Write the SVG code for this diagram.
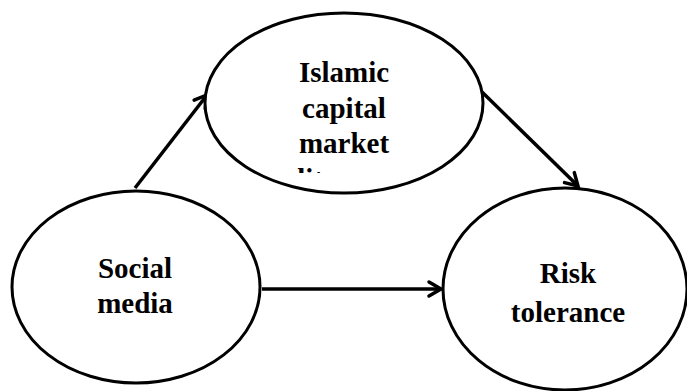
<svg xmlns="http://www.w3.org/2000/svg" width="687" height="391" viewBox="0 0 687 391">
<style>
.node ellipse{fill:#fff;stroke:#000;stroke-width:3}
.lbl{font-family:"Liberation Serif","Times New Roman",serif;font-weight:bold;font-size:29px;fill:#000;text-anchor:middle}
.conn line{stroke:#000;stroke-width:3.5;fill:none}
</style>
<defs>
<marker id="arr" markerUnits="userSpaceOnUse" markerWidth="20" markerHeight="20" viewBox="0 0 20 20" refX="15" refY="10" orient="auto">
<path d="M3,3 L15,10 L3,17" fill="none" stroke="#000" stroke-width="3.5" stroke-linecap="round" stroke-linejoin="miter"/>
</marker>
<clipPath id="clipTop"><rect x="200" y="10" width="290" height="163"/></clipPath>
</defs>
<g class="conn" id="connectors">
<line x1="135" y1="188" x2="207" y2="95" marker-end="url(#arr)"/>
<line x1="482" y1="92" x2="578" y2="186" marker-end="url(#arr)"/>
<line x1="262" y1="289" x2="441" y2="289" marker-end="url(#arr)"/>
</g>
<g class="node" id="islamic">
<ellipse cx="344" cy="103" rx="139" ry="90"/>
<g clip-path="url(#clipTop)">
<text class="lbl" x="344" y="82">Islamic</text>
<text class="lbl" x="344" y="118">capital</text>
<text class="lbl" x="344" y="153">market</text>
<text class="lbl" x="344" y="189">literacy</text>
</g>
</g>
<g class="node" id="social">
<ellipse cx="136" cy="287" rx="124" ry="96"/>
<text class="lbl" x="135" y="278">Social</text>
<text class="lbl" x="135" y="313">media</text>
</g>
<g class="node" id="risk">
<ellipse cx="565" cy="289" rx="122" ry="101"/>
<text class="lbl" x="568" y="283">Risk</text>
<text class="lbl" x="568" y="322">tolerance</text>
</g>
</svg>
